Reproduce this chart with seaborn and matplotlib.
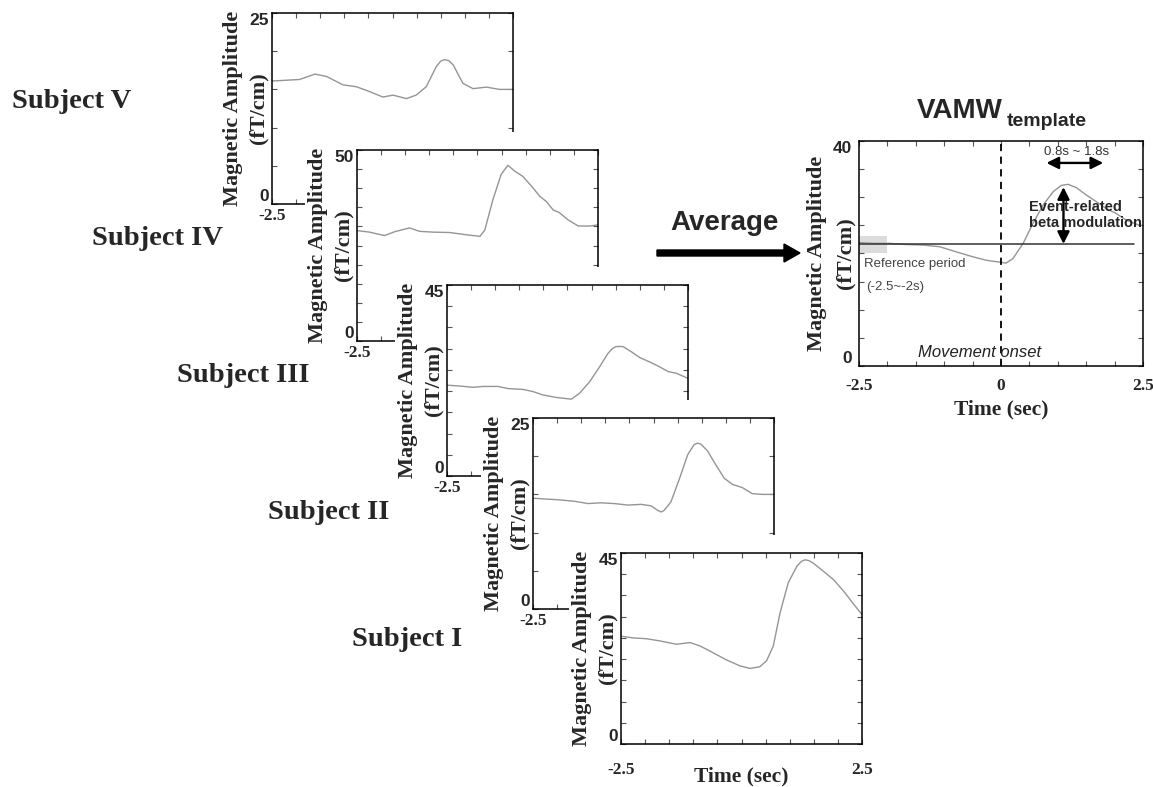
import matplotlib
matplotlib.use("Agg")
import matplotlib.pyplot as plt
from matplotlib.patches import Rectangle, FancyArrow
import numpy as np
import pandas as pd
import seaborn as sns

# ---- data: averaged beta-band amplitude per subject (time in s, amplitude in fT/cm) ----
subj_v_t = [-2.5, -2.20, -1.93, -1.61, -1.37, -1.03, -0.75, -0.47, -0.20, 0.01, 0.29, 0.49,
            0.70, 0.91, 1.00, 1.08, 1.17, 1.26, 1.46, 1.67, 1.95, 2.22, 2.5]
subj_v_y = [16.1, 16.2, 16.3, 17.0, 16.7, 15.6, 15.35, 14.7, 14.0, 14.25, 13.8, 14.25,
            15.35, 18.0, 18.7, 18.9, 18.75, 18.2, 15.8, 15.1, 15.3, 15.0, 15.0]

subj_iv_t = [-2.5, -2.24, -1.93, -1.72, -1.41, -1.20, -0.92, -0.58, -0.23, 0.05, 0.15, 0.32,
             0.49, 0.63, 0.77, 0.94, 1.15, 1.29, 1.43, 1.57, 1.70, 1.88, 2.09, 2.33, 2.5]
subj_iv_y = [28.9, 28.5, 27.6, 28.6, 29.6, 28.7, 28.5, 28.4, 27.8, 27.4, 29.0, 37.0,
             43.6, 46.0, 44.5, 43.1, 40.1, 37.9, 36.5, 34.3, 33.6, 31.7, 30.1, 30.1, 30.4]

subj_iii_t = [-2.5, -2.24, -1.96, -1.75, -1.44, -1.23, -0.92, -0.72, -0.51, -0.23, 0.08, 0.25,
              0.46, 0.67, 0.84, 0.93, 1.01, 1.15, 1.32, 1.50, 1.70, 1.88, 2.09, 2.26, 2.5]
subj_iii_y = [21.4, 21.2, 20.9, 21.1, 21.1, 20.6, 20.4, 19.9, 19.1, 18.5, 18.1, 19.5,
              22.2, 25.8, 28.9, 30.0, 30.5, 30.5, 29.3, 27.9, 26.9, 25.9, 24.6, 24.2, 23.0]

subj_ii_t = [-2.5, -2.26, -1.98, -1.64, -1.36, -1.09, -0.81, -0.53, -0.26, -0.05, 0.09, 0.16,
             0.22, 0.36, 0.53, 0.71, 0.84, 0.91, 0.98, 1.12, 1.29, 1.47, 1.64, 1.84, 2.05,
             2.26, 2.5]
subj_ii_y = [14.5, 14.4, 14.3, 14.1, 13.8, 13.9, 13.8, 13.6, 13.7, 13.5, 12.9, 12.7,
             12.9, 14.0, 16.9, 20.2, 21.5, 21.7, 21.6, 20.7, 18.9, 17.1, 16.3, 15.9, 15.1,
             15.0, 15.0]

subj_i_t = [-2.5, -2.25, -1.97, -1.70, -1.35, -1.07, -0.86, -0.59, -0.31, -0.03, 0.18, 0.38,
            0.52, 0.66, 0.80, 0.97, 1.15, 1.24, 1.32, 1.40, 1.49, 1.70, 1.91, 2.12, 2.33, 2.5]
subj_i_y = [25.4, 25.0, 24.8, 24.3, 23.5, 23.9, 23.1, 21.5, 19.8, 18.4, 17.8, 18.2,
            19.6, 23.1, 30.9, 38.0, 41.9, 43.0, 43.4, 43.2, 42.6, 40.7, 38.7, 36.0, 32.9, 30.5]

template_t = [-2.5, -2.25, -1.96, -1.67, -1.37, -1.08, -0.79, -0.49, -0.26, -0.05, 0.09, 0.21,
              0.39, 0.56, 0.74, 0.92, 1.06, 1.18, 1.33, 1.50, 1.68, 1.85, 2.03, 2.21, 2.44, 2.5]
template_y = [21.95, 21.8, 21.8, 21.6, 21.5, 21.2, 20.3, 19.4, 18.8, 18.5, 18.3, 19.1,
              21.8, 25.3, 28.6, 31.0, 32.1, 32.3, 31.7, 30.4, 29.2, 28.0, 27.1, 25.9, 25.0, 25.0]

subject_names = ["Subject V", "Subject IV", "Subject III", "Subject II", "Subject I"]
subject_ymax = [25, 50, 45, 25, 45]

baseline_level = 21.7          # mean amplitude over the reference period
reference_window = (-2.5, -2.0)
erbm_window = (0.8, 1.8)
peak_time = 1.1
peak_level = 31.8

# ---- styling ----
sns.set_style("white")
plt.rcParams["font.family"] = ["Liberation Sans", "DejaVu Sans"]
SERIF = "Liberation Serif"
SANS = "Liberation Sans"
CURVE = "#959595"

W, H = 1153, 787
fig = plt.figure(figsize=(W / 100, H / 100), dpi=100)
fig.patch.set_facecolor("white")


def fig_rect(left, top, width, height):
    """Pixel box (origin top-left) -> figure fraction [l, b, w, h]."""
    return [left / W, 1 - (top + height) / H, width / W, height / H]


def px(x, y):
    return x / W, 1 - y / H


def style_axes(ax, ymax, ylab_x, xlabels, xlab_pad, ylab_pad):
    ax.set_xlim(-2.5, 2.5)
    ax.set_ylim(0, ymax)
    ax.set_facecolor("white")
    for s in ax.spines.values():
        s.set_visible(True)
        s.set_color("black")
        s.set_linewidth(1.1)
    xt = np.arange(-2.5, 2.51, 0.5)
    xl = [xlabels.get(round(v, 1), "") for v in xt]
    ax.set_xticks(xt, xl, fontfamily=SERIF, fontweight="bold", fontsize=12.5)
    yt = np.arange(0, ymax + 0.1, 5)
    yl = [str(int(v)) if v in (0, ymax) else "" for v in yt]
    ax.set_yticks(yt, yl, fontfamily=SANS, fontweight="bold", fontsize=12.5)
    ylabels = ax.get_yticklabels()
    ylabels[0].set_verticalalignment("bottom")
    ylabels[-1].set_verticalalignment("top")
    ax.tick_params(direction="in", length=3.5, width=0.8, color="#555555",
                   top=True, right=True, left=True, bottom=True)
    ax.tick_params(axis="x", pad=xlab_pad)
    ax.tick_params(axis="y", pad=ylab_pad)
    ax.set_xlabel("")
    ax.set_ylabel("")
    for xpos, txt in zip(ylab_x, ["Magnetic Amplitude", "(fT/cm)"]):
        ax.text(xpos, 0.5, txt, transform=ax.transAxes, rotation=90,
                ha="center", va="center", fontfamily=SERIF, fontweight="bold",
                fontsize=16)


# ---- stacked subject panels ----
subject_t = [subj_v_t, subj_iv_t, subj_iii_t, subj_ii_t, subj_i_t]
subject_y = [subj_v_y, subj_iv_y, subj_iii_y, subj_ii_y, subj_i_y]
frames = [(272, 13), (357, 150), (447, 285), (533, 418), (621, 553)]
label_pos = [(12, 108), (92, 245), (177, 382), (268, 519), (352, 646)]
PW, PH = 241, 191

z = 1
for i, (name, ymax) in enumerate(zip(subject_names, subject_ymax)):
    left, top = frames[i]
    last = i == len(subject_names) - 1
    if i > 0:
        # white card hides the lower-right part of the panel behind it
        box = Rectangle(px(left - 52, top + PH + 45), (PW + 90) / W, (PH + 63) / H,
                        transform=fig.transFigure, facecolor="white", edgecolor="none",
                        zorder=z)
        fig.add_artist(box)
        z += 1
    ax = fig.add_axes(fig_rect(left, top, PW, PH))
    ax.set_zorder(z)
    z += 1
    df = pd.DataFrame({"t": subject_t[i], "amp": subject_y[i]})
    sns.lineplot(data=df, x="t", y="amp", ax=ax, color=CURVE, linewidth=1.0)
    xlabels = {-2.5: "-2.5", 2.5: "2.5"} if last else {-2.5: "-2.5"}
    style_axes(ax, ymax, (-0.162, -0.058), xlabels,
               xlab_pad=(13 if last else 3), ylab_pad=2)
    if last:
        ax.text(0.5, -0.17, "Time (sec)", transform=ax.transAxes, ha="center",
                va="center", fontfamily=SERIF, fontweight="bold", fontsize=15.5)
    fig.text(*px(*label_pos[i]), name, fontfamily=SERIF, fontweight="bold",
             fontsize=20.5, ha="left", va="baseline", zorder=50)

# ---- averaged template ----
axt = fig.add_axes(fig_rect(859, 141, 284, 225))
axt.set_zorder(40)
dft = pd.DataFrame({"t": template_t, "amp": template_y})
sns.lineplot(data=dft, x="t", y="amp", ax=axt, color=CURVE, linewidth=1.0)
style_axes(axt, 40, (-0.148, -0.049), {-2.5: "-2.5", 0.0: "0", 2.5: "2.5"},
           xlab_pad=9, ylab_pad=5)
axt.text(0.5, -0.195, "Time (sec)", transform=axt.transAxes, ha="center", va="center",
         fontfamily=SERIF, fontweight="bold", fontsize=15.5)

axt.add_patch(Rectangle((reference_window[0], 20.1), reference_window[1] - reference_window[0],
                        3.0, facecolor="#dcdcdc", edgecolor="none", zorder=0.5))
axt.plot([-2.5, 2.35], [baseline_level, baseline_level], color="#333333", linewidth=1.1)
axt.axvline(0, color="black", linestyle=(0, (4, 3)), linewidth=1.3)

axt.annotate("", xy=(erbm_window[0], 36.1), xytext=(erbm_window[1], 36.1),
             arrowprops=dict(arrowstyle="<|-|>", color="black", lw=1.7,
                             mutation_scale=18, shrinkA=0, shrinkB=0))
axt.text(1.33, 38.0, "0.8s ~ 1.8s", ha="center", va="center", fontsize=9.5,
         color="#333333")
axt.annotate("", xy=(peak_time, peak_level), xytext=(peak_time, baseline_level),
             arrowprops=dict(arrowstyle="<|-|>", color="black", lw=1.7,
                             mutation_scale=18, shrinkA=0, shrinkB=0))
axt.text(0.49, 26.8, "Event-related\nbeta modulation", ha="left", va="center",
         fontsize=10.5, fontweight="bold", linespacing=1.15)
axt.text(-2.42, 18.1, "Reference period", ha="left", va="center", fontsize=9.5,
         color="#444444")
axt.text(-2.38, 14.0, "(-2.5~-2s)", ha="left", va="center", fontsize=9.5,
         color="#444444")
axt.text(-0.38, 2.4, "Movement onset", ha="center", va="center", fontsize=12,
         style="italic", color="#222222")

# title with subscript
fig.text(*px(917, 118), "VAMW", fontfamily=SANS, fontweight="bold", fontsize=20,
         ha="left", va="baseline", zorder=50)
fig.text(*px(1007, 126), "template", fontfamily=SANS, fontweight="bold", fontsize=14,
         ha="left", va="baseline", zorder=50)

# "Average" arrow
fig.text(*px(670, 230), "Average", fontfamily=SANS, fontweight="bold", fontsize=20,
         ha="left", va="baseline", zorder=50)
x0, y0 = px(657, 253)
x1, _ = px(800, 253)
fig.add_artist(FancyArrow(x0, y0, x1 - x0, 0, width=6 / H, head_width=18 / H,
                          head_length=16 / W, length_includes_head=True,
                          transform=fig.transFigure, color="black", zorder=50))

fig.savefig("out.png", dpi=100, facecolor="white")
